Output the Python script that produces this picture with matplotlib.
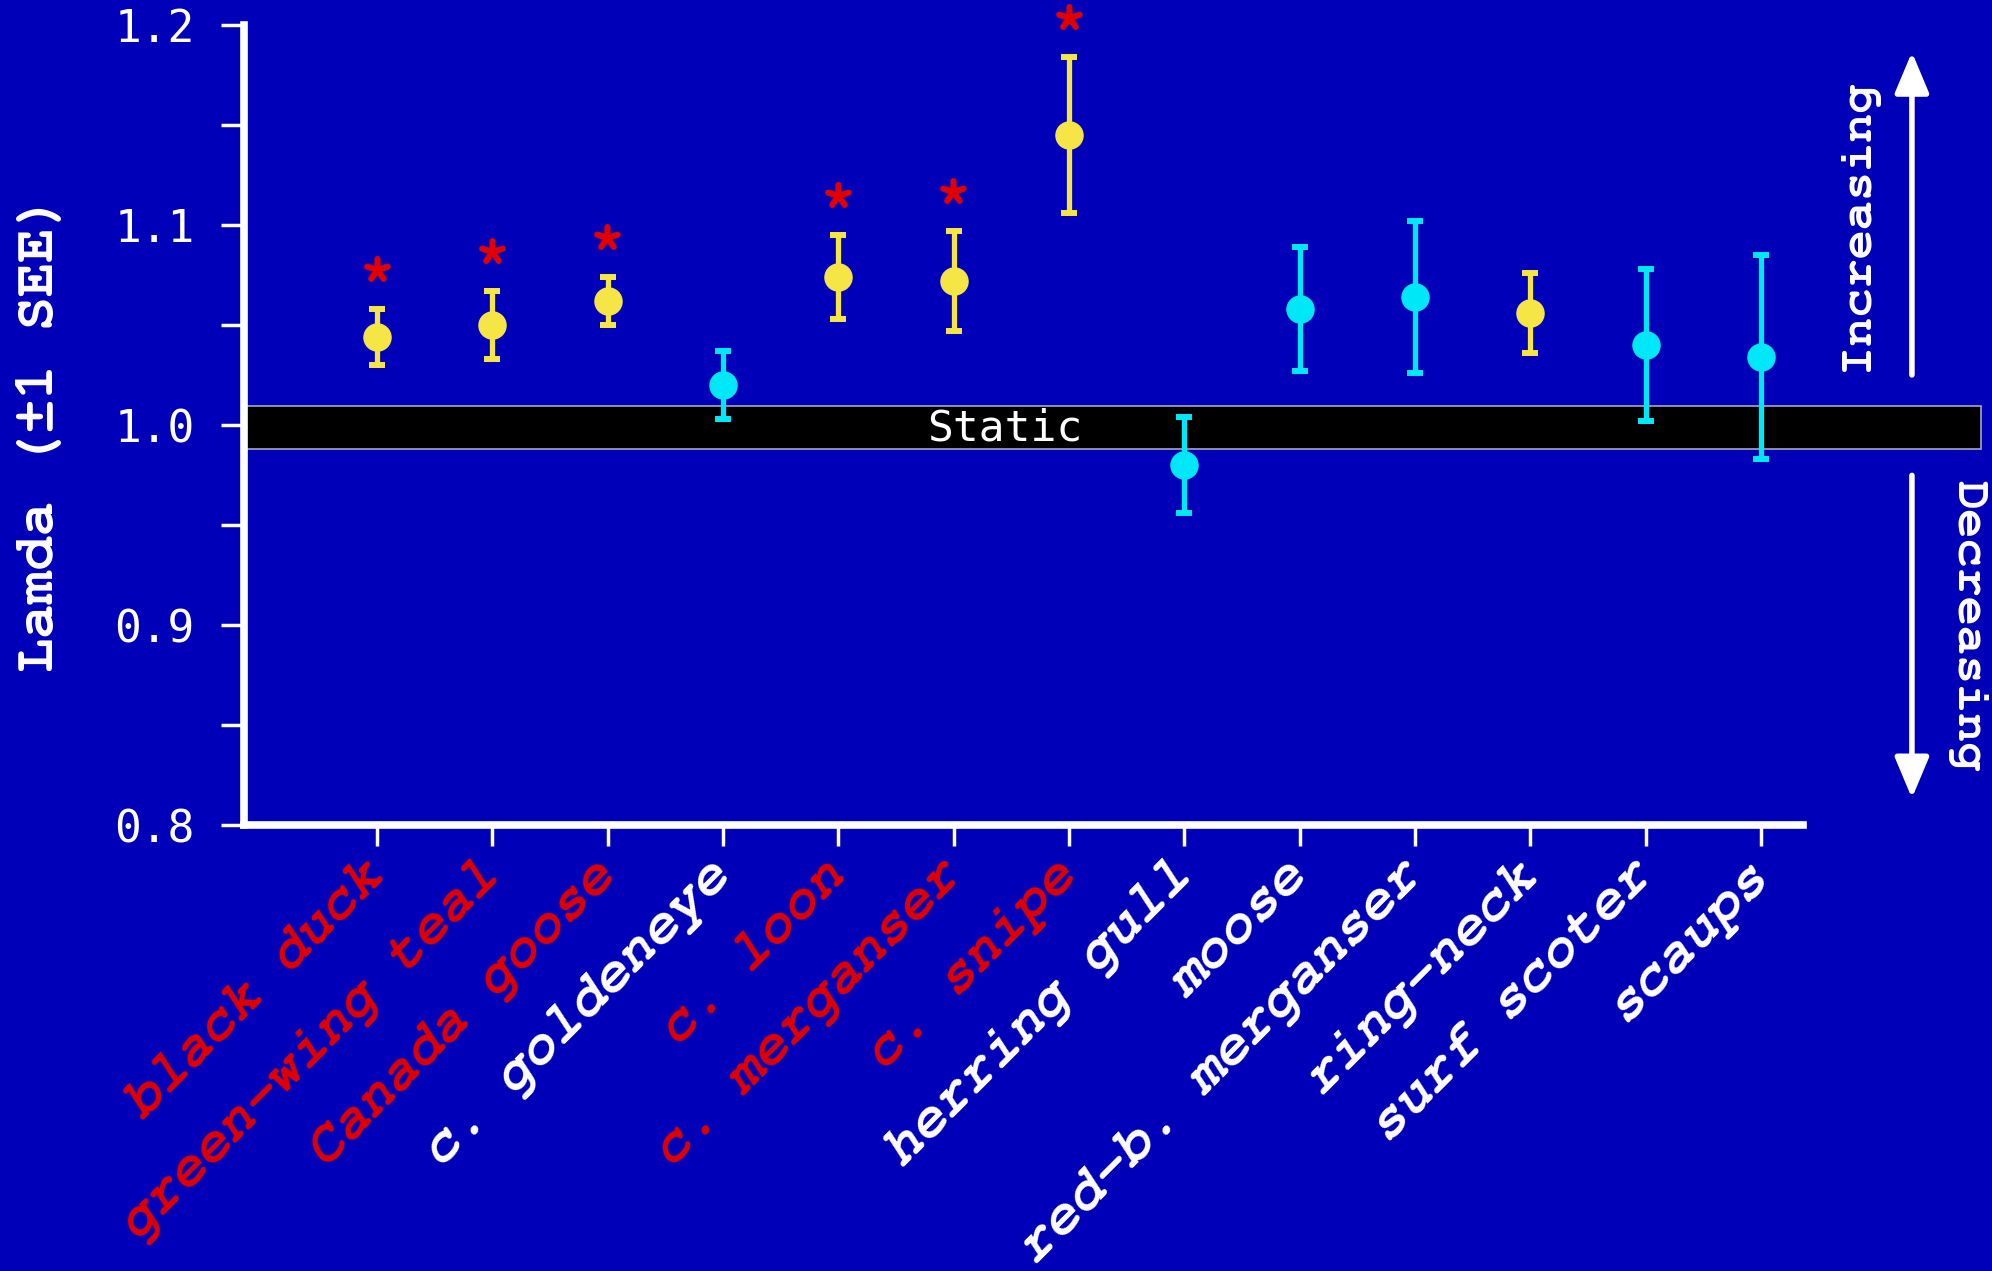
import numpy as np
import matplotlib.pyplot as plt
import matplotlib.transforms as mtransforms
from matplotlib.patches import Rectangle

# population growth rate (lamda) by species, +/- 1 SEE
species = ['black duck', 'green-wing teal', 'Canada goose', 'c. goldeneye',
           'c. loon', 'c. merganser', 'c. snipe', 'herring gull', 'moose',
           'red-b. merganser', 'ring-neck', 'surf scoter', 'scaups']
lamda = [1.044, 1.050, 1.062, 1.020, 1.074, 1.072, 1.145,
         0.980, 1.058, 1.064, 1.056, 1.040, 1.034]
see = [0.014, 0.017, 0.012, 0.017, 0.021, 0.025, 0.039,
       0.024, 0.031, 0.038, 0.020, 0.038, 0.051]
increasing = [1, 1, 1, 0, 1, 1, 1, 0, 0, 0, 1, 0, 0]
significant = [1, 1, 1, 0, 1, 1, 1, 0, 0, 0, 0, 0, 0]
static_lo, static_hi = 0.988, 1.0095
yticks = [0.8, 0.9, 1.0, 1.1, 1.2]

BG = '#0000B8'
YELLOW = '#F5E645'
CYAN = '#00E8F8'
RED = '#E00000'
COURIER = 'FreeMono'
MONO = 'DejaVu Sans Mono'

fig = plt.figure(figsize=(19.92, 12.71), dpi=100, facecolor=BG)
ax = fig.add_axes([0.1225, 0.3509, 0.7826, 0.6294])
ax.set_facecolor(BG)

x = np.arange(len(species))
for i in x:
    col = YELLOW if increasing[i] else CYAN
    ax.errorbar(i, lamda[i], yerr=see[i], fmt='o', color=col, ms=19.5,
                elinewidth=3.8, capsize=5.5, capthick=4.3, zorder=3, clip_on=False)
    if significant[i]:
        ax.text(i, lamda[i] + see[i] + 0.007, '*', color=RED, fontsize=44,
                family=COURIER, weight='bold', ha='center', va='baseline')

# "static" band across the plot and past the right end of the axis
blend = mtransforms.blended_transform_factory(ax.transAxes, ax.transData)
ax.add_patch(Rectangle((0, static_lo), 1.114, static_hi - static_lo, transform=blend,
                       facecolor='black', edgecolor='#A8A8C0', lw=1.2,
                       clip_on=False, zorder=1))
ax.text(0.488, 0.9985, 'Static', transform=blend, color='white', fontsize=31,
        family=MONO, ha='center', va='center', zorder=2)

ax.set_xlim(-1.153, 12.365)
ax.set_ylim(0.8, 1.2)

for side in ['top', 'right']:
    ax.spines[side].set_visible(False)
for side in ['left', 'bottom']:
    ax.spines[side].set_linewidth(5.5)
    ax.spines[side].set_color('white')

ax.set_yticks(yticks)
ax.set_yticklabels(['%.1f' % v for v in yticks])
ax.set_yticks([0.85, 0.95, 1.05, 1.15], minor=True)
ax.tick_params(axis='y', which='both', direction='out', length=16.5, width=2.5,
               color='white', labelcolor='white', labelsize=32, pad=19,
               labelfontfamily=MONO)

ax.set_xticks(x)
ax.set_xticklabels(species, rotation=45, ha='right', va='center',
                   rotation_mode='anchor', fontsize=41, family=COURIER,
                   weight='bold', style='oblique')
ax.tick_params(axis='x', direction='out', length=15, width=2.5, color='white', pad=17)
for lab, sig in zip(ax.get_xticklabels(), significant):
    lab.set_color(RED if sig else 'white')

ax.set_ylabel('Lamda (±1 SEE)', fontsize=41, family=COURIER, weight='bold',
              color='white')
ax.yaxis.set_label_coords(-0.115, 0.491)

# trend arrows on the right
ax.annotate('', xy=(0.9598, 0.959), xytext=(0.9598, 0.705), xycoords='figure fraction',
            arrowprops=dict(arrowstyle='-|>,head_length=1.0,head_width=0.42',
                            mutation_scale=25, color='white', lw=4,
                            shrinkA=0, shrinkB=0))
ax.annotate('', xy=(0.9598, 0.372), xytext=(0.9598, 0.626), xycoords='figure fraction',
            arrowprops=dict(arrowstyle='-|>,head_length=1.0,head_width=0.42',
                            mutation_scale=25, color='white', lw=4,
                            shrinkA=0, shrinkB=0))
fig.text(0.9327, 0.823, 'Increasing', rotation=90, color='white', fontsize=35,
         family=COURIER, weight='bold', ha='center', va='center')
fig.text(0.9875, 0.508, 'Decreasing', rotation=-90, color='white', fontsize=35,
         family=COURIER, weight='bold', ha='center', va='center')

fig.savefig('out.png', dpi=100, facecolor=BG)
